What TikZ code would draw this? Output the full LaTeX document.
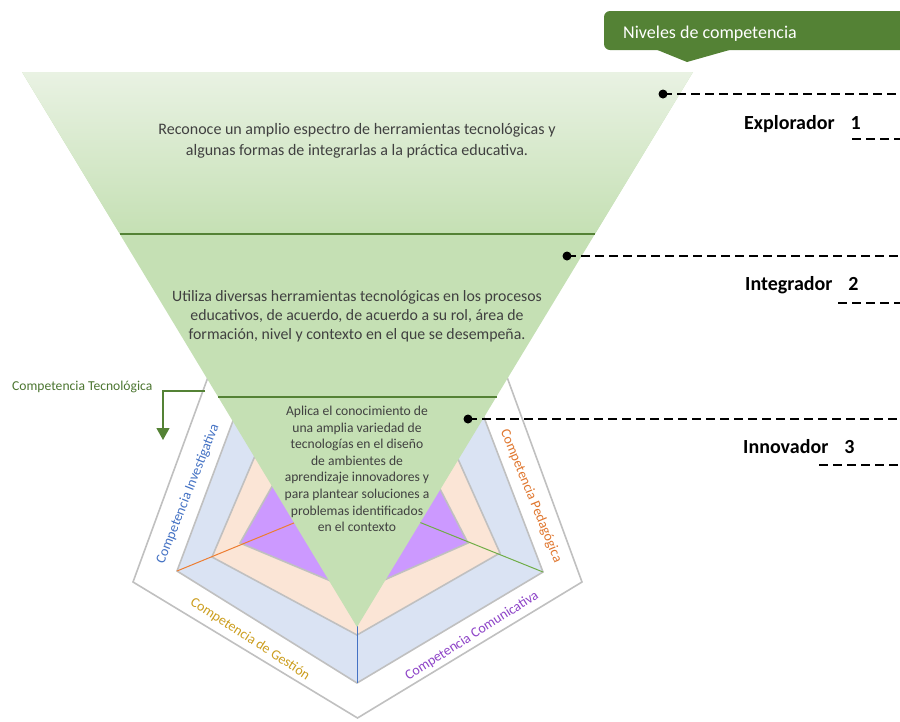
\documentclass[tikz,border=0pt]{standalone}
\usepackage{fontspec}
\setmainfont{Carlito}
\usetikzlibrary{arrows.meta}
\definecolor{darkgreen}{HTML}{548235}
\definecolor{lightgreen}{HTML}{C5E0B4}
\definecolor{palegreen}{HTML}{E9F2E3}
\definecolor{gridgray}{HTML}{C0C0C0}
\definecolor{layerblue}{HTML}{DAE3F3}
\definecolor{layerpeach}{HTML}{FBE5D6}
\definecolor{layerpurple}{HTML}{CC99FF}
\definecolor{axisorange}{HTML}{ED7D31}
\definecolor{axisgreen}{HTML}{70AD47}
\definecolor{axisblue}{HTML}{4472C4}
\definecolor{textorange}{HTML}{E0772F}
\definecolor{textgold}{HTML}{CC9E1F}
\definecolor{textpurple}{HTML}{8E44C8}
\definecolor{bodygray}{HTML}{404040}
\tikzstyle{layer} = [draw=gridgray, line width=1.6pt]
\tikzstyle{axisline} = [line width=1pt]
\tikzstyle{divider} = [draw=darkgreen, line width=1.2pt]
\tikzstyle{leveltext} = [text=bodygray, align=center, inner sep=0pt]
\tikzstyle{dot} = [circle, fill=black, inner sep=0pt, minimum size=9pt]
\tikzstyle{levelline} = [line width=1.8pt, dash pattern=on 9pt off 5pt]
\tikzstyle{levelname} = [anchor=west, inner sep=0pt, font=\fontsize{20}{24}\selectfont\bfseries]
\tikzstyle{edgelabel} = [inner sep=0pt, font=\fontsize{14}{16}\selectfont]

\begin{document}
\begin{tikzpicture}[x=1pt, y=-1pt]
\useasboundingbox (0,0) rectangle (900,721);

% radar behind the funnel
\coordinate (center) at (357,497);
\coordinate (vleft) at (177,571);
\coordinate (vright) at (543,572);
\coordinate (vbottom) at (357,683);
\draw [layer, fill=white] (133,582) -- (219,347) -- (496,347) -- (582,582) -- (357.5,718) -- cycle;
\draw [layer, fill=layerblue] (vleft) -- (246,386) -- (472,386) -- (vright) -- (vbottom) -- cycle;
\draw [layer, fill=layerpeach] (212,557) -- (266,430) -- (445,430) -- (500,553) -- (357,635) -- cycle;
\draw [layer, fill=layerpurple] (240,543) -- (287,460) -- (425,460) -- (468,543) -- (357,592) -- cycle;
\draw [axisline, axisorange] (vleft) -- (center);
\draw [axisline, axisgreen] (vright) -- (center);
\draw [axisline, axisblue] (vbottom) -- (center);

\node (investigativa) [edgelabel, text=axisblue, rotate=68.3] at (188,494) {Competencia Investigativa};
\node (pedagogica) [edgelabel, text=textorange, rotate=-67.7] at (531,496) {Competencia Pedagógica};
\node (gestion) [edgelabel, text=textgold, rotate=-33] at (250,639) {Competencia de Gestión};
\node (comunicativa) [edgelabel, text=textpurple, rotate=32.5] at (472,636) {Competencia Comunicativa};

% funnel
\fill [lightgreen] (22,72) -- (693,72) -- (357,627) -- cycle;
\shade [top color=palegreen, bottom color=lightgreen] (22,72) -- (693,72) -- (595,234) -- (120,234) -- cycle;
\draw [divider] (120,234) -- (595,234);
\draw [divider] (218,397) -- (497,397);

\node (explorador text) [leveltext, font=\fontsize{16}{21}\selectfont] at (357,141) {Reconoce un amplio espectro de herramientas tecnológicas y\\algunas formas de integrarlas a la práctica educativa.};
\node (integrador text) [leveltext, font=\fontsize{15.8}{19}\selectfont] at (357,316) {Utiliza diversas herramientas tecnológicas en los procesos\\educativos, de acuerdo, de acuerdo a su rol, área de\\formación, nivel y contexto en el que se desempeña.};
\node (innovador text) [leveltext, font=\fontsize{13.6}{16.6}\selectfont] at (357,469) {Aplica el conocimiento de\\una amplia variedad de\\tecnologías en el diseño\\de ambientes de\\aprendizaje innovadores y\\para plantear soluciones a\\problemas identificados\\en el contexto};

% levels
\node (dot1) [dot] at (663,94) {};
\node (dot2) [dot] at (567,256) {};
\node (dot3) [dot] at (468,419) {};
\coordinate (end1) at (900,94);
\coordinate (end2) at (900,256);
\coordinate (end3) at (900,419);
\draw [levelline] (dot1.center) -- (end1);
\draw [levelline] (dot2.center) -- (end2);
\draw [levelline] (dot3.center) -- (end3);

\node (explorador) [levelname] at (744,124) {Explorador\hspace{0.8em}1};
\node (integrador) [levelname] at (745,285) {Integrador\hspace{0.8em}2};
\node (innovador) [levelname] at (743,447) {Innovador\hspace{0.8em}3};
\draw [levelline] (852,139) -- (900,139);
\draw [levelline] (838,303) -- (900,303);
\draw [levelline] (819,465) -- (900,465);

% banner
\fill [darkgreen, rounded corners=6pt] (604,11) rectangle (915,50);
\fill [darkgreen] (655,49) -- (687,62) -- (733,49) -- cycle;
\node (niveles) [anchor=west, text=white, inner sep=0pt, font=\fontsize{18}{20}\selectfont] at (623,34) {Niveles de competencia};

% top axis label
\node (tecnologica) [anchor=west, inner sep=0pt, text=darkgreen!90!black, font=\fontsize{13.6}{15}\selectfont] at (12,387) {Competencia Tecnológica};
\coordinate (tecstart) at (205,391);
\coordinate (tecend) at (163,440);
\draw [darkgreen, line width=1.2pt, -{Triangle[width=13pt, length=12pt]}] (tecstart) -| (tecend);
\end{tikzpicture}
\end{document}
